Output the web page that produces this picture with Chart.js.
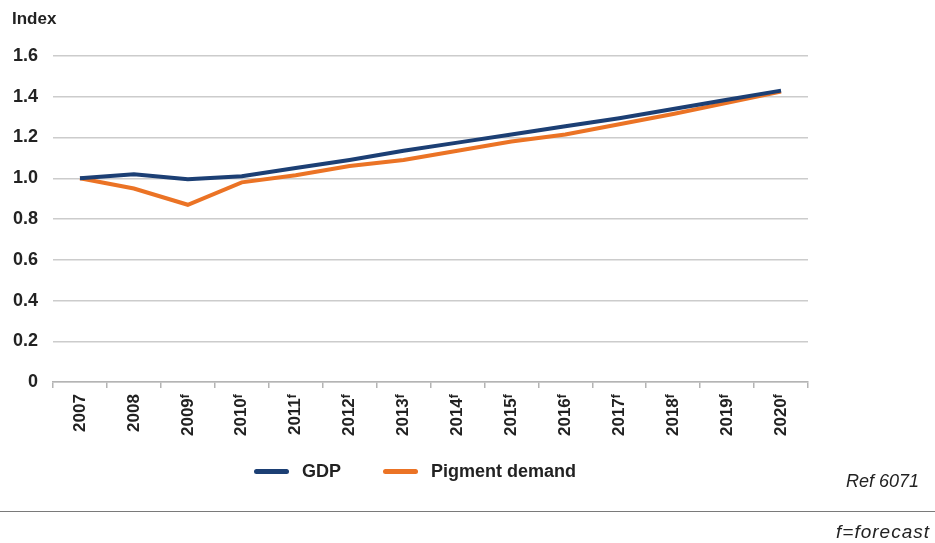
<!DOCTYPE html>
<html>
<head>
<meta charset="utf-8">
<script src="https://cdn.jsdelivr.net/npm/chart.js@4/dist/chart.umd.min.js"></script>
<style>
    html, body { margin: 0; padding: 0; background: #fff; }
    #wrap { position: relative; width: 935px; height: 543px; font-family: 'Liberation Sans', Arial, sans-serif; color: #222; }
    #chart { position: absolute; left: 0; top: 0; }
    .axis-title { position: absolute; left: 12px; top: 9px; font-size: 17px; font-weight: bold; }
    .legend { position: absolute; top: 460px; left: 254px; height: 22px; display: flex; align-items: center; font-size: 18px; font-weight: bold; }
    .legend .item { display: flex; align-items: center; }
    .legend .swatch { width: 35px; height: 5px; border-radius: 3px; margin-right: 13px; }
    .legend .item + .item { margin-left: 42px; }
    .ref { position: absolute; right: 16px; top: 471px; font-size: 18px; font-style: italic; font-family: 'Liberation Sans Narrow', 'Liberation Sans', sans-serif; }
    .rule { position: absolute; left: 0; top: 511px; width: 935px; height: 0; border-top: 1.5px solid #7a7a7a; }
    .note { position: absolute; right: 5px; top: 521px; font-size: 19px; font-style: italic; letter-spacing: 1px; font-family: 'Liberation Sans Narrow', 'Liberation Sans', sans-serif; }
</style>
</head>
<body>
<div id="wrap">
    <canvas id="chart" width="935" height="543"></canvas>
    <div class="axis-title">Index</div>
    <div class="legend" id="legend"></div>
    <div class="ref">Ref 6071</div>
    <div class="rule"></div>
    <div class="note">f=forecast</div>
</div>
<script>
// years, forecast years carry a superscript f
const years = ['2007', '2008', '2009ᶠ', '2010ᶠ', '2011ᶠ', '2012ᶠ', '2013ᶠ', '2014ᶠ',
               '2015ᶠ', '2016ᶠ', '2017ᶠ', '2018ᶠ', '2019ᶠ', '2020ᶠ'];
const gdp = [1.00, 1.02, 0.995, 1.01, 1.05, 1.09, 1.135, 1.175, 1.215, 1.255, 1.295, 1.34, 1.385, 1.43];
const pigment = [1.00, 0.95, 0.87, 0.98, 1.015, 1.06, 1.09, 1.135, 1.18, 1.215, 1.265, 1.315, 1.37, 1.425];

const navy = '#1c3f74';
const orange = '#eb7325';

const ctx = document.getElementById('chart').getContext('2d');
const chart = new Chart(ctx, {
    type: 'line',
    data: {
        labels: years,
        datasets: [
            { label: 'GDP', data: gdp, borderColor: navy, backgroundColor: navy, borderWidth: 4, pointRadius: 0, tension: 0 },
            { label: 'Pigment demand', data: pigment, borderColor: orange, backgroundColor: orange, borderWidth: 4, pointRadius: 0, tension: 0 }
        ]
    },
    options: {
        responsive: false,
        animation: false,
        layout: { padding: { left: 0, right: 127, top: 56, bottom: 101 } },
        plugins: {
            tooltip: { enabled: false },
            legend: { display: false }
        },
        scales: {
            x: {
                offset: true,
                grid: { offset: true, drawOnChartArea: false, color: '#b4b4b4', lineWidth: 1.5, tickLength: 6 },
                border: { color: '#b4b4b4', width: 1.5 },
                ticks: {
                    minRotation: 90, maxRotation: 90, padding: 6,
                    color: '#222',
                    font: { family: 'Liberation Sans', size: 17, weight: 'bold' }
                }
            },
            y: {
                min: 0, max: 1.6,
                afterFit: s => { s.width = 53; },
                grid: { color: '#cccccc', lineWidth: 1.5, drawTicks: false },
                border: { display: false },
                ticks: {
                    stepSize: 0.2, padding: 15,
                    color: '#222',
                    font: { family: 'Liberation Sans', size: 18, weight: 'bold' },
                    callback: v => v === 0 ? '0' : v.toFixed(1)
                }
            }
        }
    }
});

// legend below the plot, built from the datasets
const legend = document.getElementById('legend');
chart.data.datasets.forEach(ds => {
    const item = document.createElement('div');
    item.className = 'item';
    item.innerHTML = `<span class="swatch" style="background:${ds.borderColor}"></span><span>${ds.label}</span>`;
    legend.appendChild(item);
});
</script>
</body>
</html>
